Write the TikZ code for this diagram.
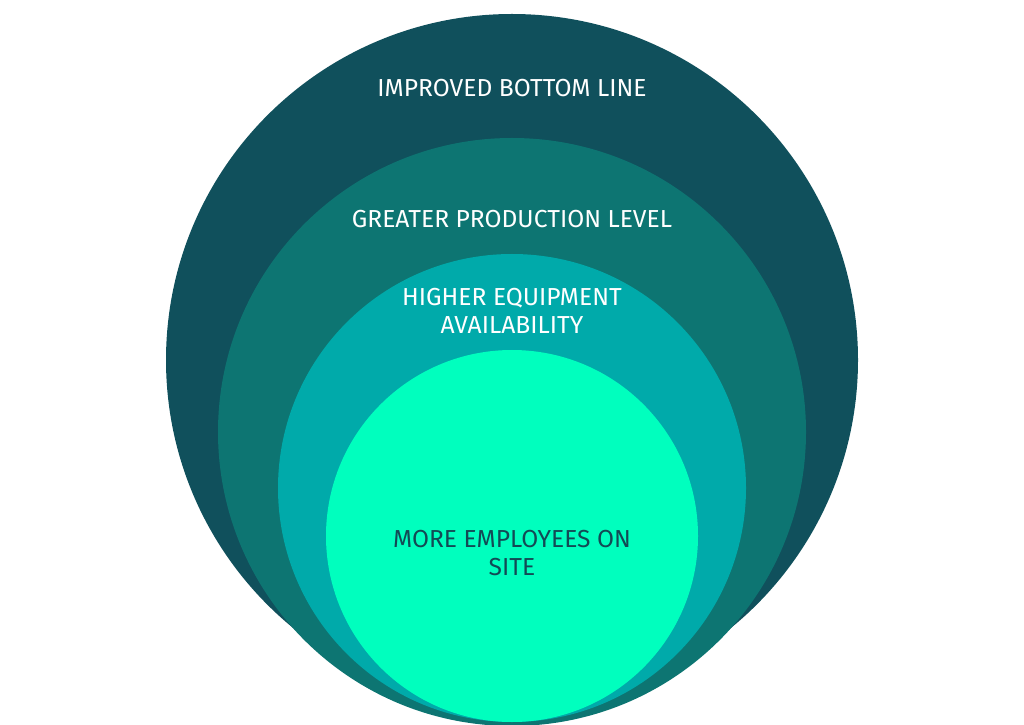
\documentclass[tikz,border=0pt]{standalone}
\usepackage{fontspec}
\setmainfont{Fira Sans}
\usepackage{xcolor}
\definecolor{ringA}{HTML}{10505C}
\definecolor{ringB}{HTML}{0D7572}
\definecolor{ringC}{HTML}{00AAAA}
\definecolor{ringD}{HTML}{00FFBE}
\definecolor{txtdark}{HTML}{134A55}
\begin{document}
\begin{tikzpicture}[x=0.02cm,y=0.02cm,lbl/.style={align=center,font=\fontsize{14}{16}\selectfont,text=white}]
\useasboundingbox (0,0) rectangle (1024,724);
\fill[ringA] (512,364) circle (346);
\fill[ringB] (512,292) circle (294);
\fill[ringC] (512,236) circle (234);
\fill[ringD] (512,188) circle (186);
\node[lbl] (bottom) at (512,636) {IMPROVED BOTTOM LINE};
\node[lbl] (prod) at (512,505) {GREATER PRODUCTION LEVEL};
\node[lbl] (equip) at (512,413) {HIGHER EQUIPMENT\\AVAILABILITY};
\node[lbl,text=txtdark] (staff) at (512,171) {MORE EMPLOYEES ON\\SITE};
\end{tikzpicture}
\end{document}
